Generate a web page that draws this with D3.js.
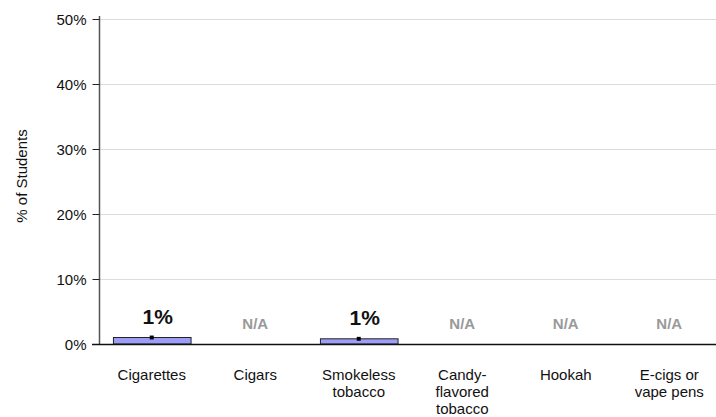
<!DOCTYPE html>
<html><head><meta charset="utf-8">
<script src="https://cdn.jsdelivr.net/npm/d3@7"></script>
<style>body{margin:0;background:#fff}svg{display:block;font-family:"Liberation Sans",Arial,sans-serif}</style>
</head><body><svg id="c" width="716" height="417"></svg>
<script>
const categories = ["Cigarettes","Cigars","Smokeless tobacco","Candy-flavored tobacco","Hookah","E-cigs or vape pens"];
const categoryLines = [["Cigarettes"],["Cigars"],["Smokeless","tobacco"],["Candy-","flavored","tobacco"],["Hookah"],["E-cigs or","vape pens"]];
const values = [1.0, null, 0.8, null, null, null];
const errLow = [0.7, null, 0.5, null, null, null];
const errHigh = [1.3, null, 1.1, null, null, null];
const valueLabels = ["1%","N/A","1%","N/A","N/A","N/A"];
const yTicks = [0,10,20,30,40,50];

const FONT = '"Liberation Sans",Arial,sans-serif';
const svg = d3.select("#c");
const mLeft = 100, mRight = 721, mTop = 19, mBottom = 344;
const x = d3.scaleBand().domain(categories).range([mLeft, mRight]).padding(0);
const y = d3.scaleLinear().domain([0,50]).range([mBottom, mTop]);

// gridlines
svg.append("g").selectAll("line").data(yTicks.filter(d=>d>0)).join("line")
  .attr("x1", mLeft).attr("x2", 716).attr("y1", d=>y(d)+0.5).attr("y2", d=>y(d)+0.5)
  .attr("stroke", "#dcdcdc").attr("stroke-width", 1);

// y axis
const yAxis = svg.append("g").attr("transform", `translate(${mLeft-0.5},0)`)
  .call(d3.axisLeft(y).tickValues(yTicks).tickFormat(d=>d+"%").tickSize(7).tickPadding(6));
yAxis.attr("font-family", FONT);
yAxis.select(".domain").attr("d", `M0,${mTop-3}V${mBottom}`).attr("stroke","#555").attr("stroke-width",1.5);
yAxis.selectAll(".tick line").attr("stroke","#222");
yAxis.selectAll(".tick text").attr("font-size", 15).attr("fill","#111").attr("dy","0.36em");

// bars
const bw = x.bandwidth()*0.75;
const data = categories.map((c,i)=>({c, v: values[i], lo: errLow[i], hi: errHigh[i], lab: valueLabels[i]}));
svg.append("g").selectAll("rect").data(data.filter(d=>d.v!=null)).join("rect")
  .attr("x", d=>x(d.c)+(x.bandwidth()-bw)/2+0.5).attr("width", bw)
  .attr("y", d=>y(d.v)).attr("height", d=>mBottom-y(d.v))
  .attr("fill", "#9d9df7").attr("stroke", "#222").attr("stroke-width", 1);

// error bars
const eb = svg.append("g");
data.filter(d=>d.v!=null).forEach(d=>{
  const cx = x(d.c)+x.bandwidth()/2;
  eb.append("rect").attr("x", cx-2).attr("width", 4)
    .attr("y", y(d.hi)).attr("height", y(d.lo)-y(d.hi)).attr("fill","#000");
});

// x baseline
svg.append("line").attr("x1", 92).attr("x2", 716).attr("y1", mBottom+0.5).attr("y2", mBottom+0.5)
  .attr("stroke","#111").attr("stroke-width",1.5);

// value labels
svg.append("g").selectAll("text").data(data).join("text")
  .attr("x", d=>x(d.c)+x.bandwidth()/2 + (d.v!=null ? 6 : 0))
  .attr("y", d=>d.v!=null ? y(d.v)-14 : mBottom-15)
  .attr("text-anchor","middle")
  .attr("font-weight","bold")
  .attr("font-size", d=>d.v!=null ? 21 : 15)
  .attr("fill", d=>d.v!=null ? "#111" : "#999")
  .text(d=>d.lab);

// category labels
const cl = svg.append("g");
categories.forEach((c,i)=>{
  const t = cl.append("text").attr("x", x(c)+x.bandwidth()/2).attr("y", 380)
    .attr("text-anchor","middle").attr("font-size",15).attr("fill","#111");
  categoryLines[i].forEach((ln,j)=>{
    t.append("tspan").attr("x", x(c)+x.bandwidth()/2).attr("dy", j===0?0:17).text(ln);
  });
});

// y title
svg.append("text").attr("transform","translate(27,176) rotate(-90)")
  .attr("text-anchor","middle").attr("font-size",15).attr("fill","#111").text("% of Students");
</script></body></html>
